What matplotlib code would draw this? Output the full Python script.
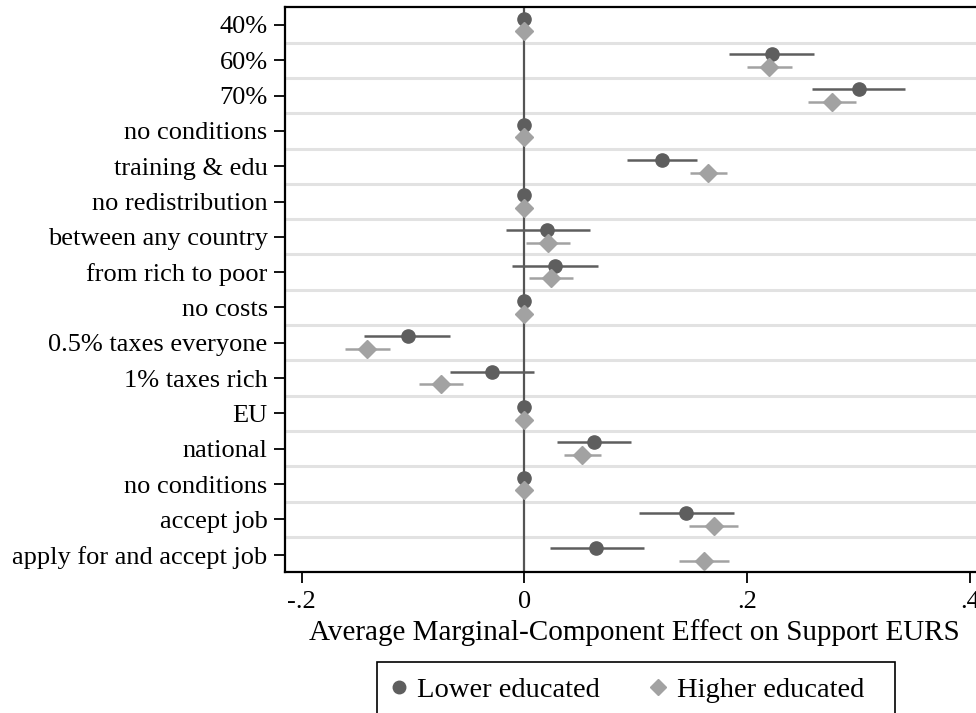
import numpy as np
import matplotlib
matplotlib.use("Agg")
import matplotlib.pyplot as plt
from matplotlib.lines import Line2D
from matplotlib.patches import Rectangle

plt.rcParams['font.family'] = ['Liberation Serif', 'DejaVu Serif']

# attribute levels, top to bottom
labels = ["40%", "60%", "70%", "no conditions", "training & edu",
          "no redistribution", "between any country", "from rich to poor",
          "no costs", "0.5% taxes everyone", "1% taxes rich", "EU", "national",
          "no conditions", "accept job", "apply for and accept job"]

# lower educated: estimate, lower CI, upper CI
low_est = [0, 0.222, 0.300, 0, 0.1235, 0, 0.020, 0.0275, 0, -0.105, -0.029,
           0, 0.0625, 0, 0.145, 0.0645]
low_lo = [0, 0.184, 0.258, 0, 0.092, 0, -0.017, -0.011, 0, -0.144, -0.067,
          0, 0.029, 0, 0.103, 0.023]
low_hi = [0, 0.260, 0.342, 0, 0.155, 0, 0.059, 0.066, 0, -0.067, 0.009,
          0, 0.096, 0, 0.188, 0.107]

# higher educated
high_est = [0, 0.2195, 0.276, 0, 0.165, 0, 0.0207, 0.024, 0, -0.141, -0.075,
            0, 0.052, 0, 0.170, 0.161]
high_lo = [0, 0.200, 0.255, 0, 0.149, 0, 0.001, 0.0044, 0, -0.161, -0.095,
           0, 0.0355, 0, 0.148, 0.139]
high_hi = [0, 0.240, 0.298, 0, 0.182, 0, 0.0406, 0.0438, 0, -0.121, -0.0554,
           0, 0.069, 0, 0.192, 0.184]

xticks = [-0.2, 0, 0.2, 0.4]
xticklabels = ["-.2", "0", ".2", ".4"]

dark = "#5e5e5e"
light = "#a2a2a2"

W, H = 976, 713
fig = plt.figure(figsize=(W / 100, H / 100), dpi=100)
# axes runs a bit past the right edge of the picture, as in the original
ax_left, ax_right, ax_top, ax_bot = 285, 996, 7.3, 572.3
ax = fig.add_axes([ax_left / W, 1 - ax_bot / H, (ax_right - ax_left) / W,
                   (ax_bot - ax_top) / H])

y = np.arange(len(labels))
off = 0.18

# light gridlines between rows
for g in np.arange(0.5, len(labels) - 0.5, 1):
    ax.axhline(g, color="#e2e2e2", lw=2.2, zorder=0)

ax.axvline(0, color="#555555", lw=1.6, zorder=1)

ax.hlines(y - off, low_lo, low_hi, color=dark, lw=1.8, zorder=2)
ax.plot(low_est, y - off, "o", color=dark, ms=9.5, mec=dark, zorder=3)
ax.hlines(y + off, high_lo, high_hi, color=light, lw=1.8, zorder=2)
ax.plot(high_est, y + off, "D", color=light, ms=9, mec=light, zorder=3)

ax.set_ylim(len(labels) - 0.5, -0.5)
x0 = -0.215
ax.set_xlim(x0, x0 + (ax_right - ax_left) / 1113.8)
ax.set_yticks(y)
ax.set_yticklabels(labels, fontsize=19)
ax.set_xticks(xticks)
ax.set_xticklabels(xticklabels, fontsize=19)
ax.tick_params(axis="y", length=8, width=1.3, pad=4.5)
ax.tick_params(axis="x", length=8, width=1.3, pad=5.5)
for s in ax.spines.values():
    s.set_linewidth(1.6)
ax.spines["right"].set_visible(False)
ax.set_xlabel("Average Marginal-Component Effect on Support EURS", fontsize=21, labelpad=6)
# title centred on the visible part of the axis
ax.xaxis.set_label_coords((634.5 - ax_left) / (ax_right - ax_left), -0.083)

handles = [Line2D([], [], marker="o", ls="", color=dark, ms=9),
           Line2D([], [], marker="D", ls="", color=light, ms=8)]
leg = fig.legend(handles, ["Lower educated", "Higher educated"], loc="upper left",
                 bbox_to_anchor=(377.3 / W, 1 - 664 / H), ncol=2, fontsize=20.5,
                 frameon=False, borderpad=0.45,
                 handletextpad=0.35, columnspacing=1.75, handlelength=0.6,
                 borderaxespad=0)

# legend box, its lower edge falls outside the picture
box = Rectangle((377.3 / W, -0.05), (894.6 - 377.3) / W, 0.05 + 1 - 662.3 / H,
                transform=fig.transFigure, fill=False, edgecolor="black", lw=1.2)
fig.patches.append(box)

fig.savefig("out.png", dpi=100)
